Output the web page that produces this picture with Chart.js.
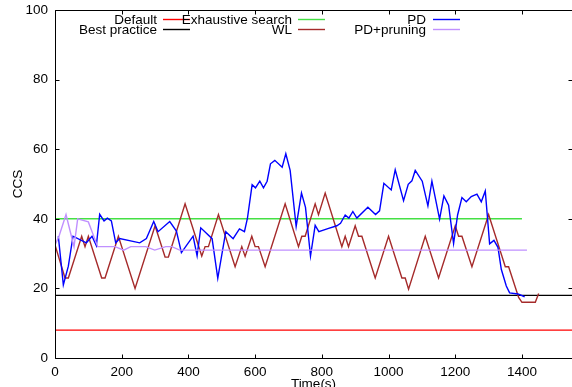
<!DOCTYPE html>
<html>
<head>
<meta charset="utf-8">
<script src="https://cdn.jsdelivr.net/npm/chart.js@4.4.1/dist/chart.umd.min.js"></script>
<style>
html, body { margin: 0; padding: 0; background: #fff; overflow: hidden; }
canvas { display: block; }
</style>
</head>
<body>
<canvas id="ccsChart" width="572" height="400"></canvas>
<script>
// constant reference levels
var defaultCcs = 8;
var bestPracticeCcs = 18;
var exhaustiveCcs = 40;
var fullSpan = [0, 1550];
var exhaustiveSpan = [0, 1400];

// WL
var wlTime = [0, 30, 40, 80, 90, 100, 140, 150, 190, 240, 300, 330, 340, 390, 440, 450, 460, 490, 540, 560, 570, 590, 600, 610, 630, 690, 730, 740, 750, 780, 790, 810, 860, 870, 880, 900, 910, 920, 960, 1000, 1040, 1050, 1060, 1110, 1150, 1200, 1210, 1220, 1250, 1300, 1350, 1360, 1390, 1400, 1440, 1450];
var wlCcs  = [32.5, 23, 23, 35, 32, 35, 23, 23, 35, 20, 38, 29, 29, 44.3, 29.3, 32, 32, 41.2, 26.2, 32, 29.2, 35, 32, 32, 26.2, 44.3, 32, 35, 35, 44.3, 41.2, 47.4, 32, 35, 32, 38, 35, 35, 23, 35, 23, 23, 19.8, 35, 23, 38, 35, 35, 26.2, 41.2, 26.2, 26.2, 17.4, 16, 16, 18.5];

// PD
var pdTime = [10, 25, 40, 54, 94, 111, 124, 134, 147, 157, 169, 182, 194, 254, 274, 296, 309, 344, 364, 379, 414, 426, 437, 471, 488, 512, 534, 553, 568, 577, 591, 601, 614, 625, 636, 646, 659, 681, 692, 705, 723, 739, 751, 766, 780, 791, 818, 845, 856, 870, 881, 893, 905, 938, 961, 973, 986, 1008, 1020, 1045, 1059, 1070, 1080, 1101, 1118, 1130, 1153, 1166, 1180, 1195, 1207, 1220, 1233, 1248, 1265, 1278, 1290, 1303, 1316, 1328, 1338, 1353, 1363, 1388, 1408];
var pdCcs  = [35, 21, 26.4, 35, 33.1, 35, 32.3, 41.3, 39.4, 40.2, 39.4, 33.1, 34.3, 33.1, 34.3, 39.2, 36.3, 39.2, 36.5, 30.3, 35, 29.4, 37.4, 34.3, 22.9, 36.3, 34.3, 37.1, 36.3, 40.2, 49.8, 48.9, 50.8, 48.9, 50.8, 55.8, 56.8, 54.8, 58.7, 53.9, 37.8, 47.4, 43.3, 29.3, 38.1, 36.3, 37.2, 38, 38.7, 41.1, 40.2, 42.1, 40.2, 43.3, 41.2, 42.3, 50.2, 48.3, 54.1, 45.2, 49.9, 50.9, 53.9, 50.8, 43.7, 50.8, 39.9, 46.6, 43.9, 32.9, 41.1, 46.1, 44.9, 46.4, 47.1, 44.9, 48, 32.8, 33.8, 31.8, 25.5, 20.7, 18.7, 18.4, 17.6];

// PD+pruning
var prunTime = [0, 12, 33, 57, 68, 100, 128, 180, 206, 227, 272, 299, 332, 350, 374, 1415];
var prunCcs  = [32.5, 35, 41.2, 32, 40, 39.1, 32, 32, 31, 32, 32, 31, 32, 32, 31, 31];

function toPoints(xs, ys) {
	var pts = [];
	for (var i = 0; i < xs.length; i++) pts.push({x: xs[i], y: ys[i]});
	return pts;
}

function flat(span, v) {
	return [{x: span[0], y: v}, {x: span[1], y: v}];
}

var fnt = {family: "'Liberation Sans', Arial, Helvetica, sans-serif", size: 13.5};

var series = [
	{label: "Default",           data: flat(fullSpan, defaultCcs),       borderColor: "#ff0000"},
	{label: "Best practice",     data: flat(fullSpan, bestPracticeCcs),  borderColor: "#000000"},
	{label: "Exhaustive search", data: flat(exhaustiveSpan, exhaustiveCcs), borderColor: "#44e044"},
	{label: "WL",                data: toPoints(wlTime, wlCcs),           borderColor: "#a52a2a"},
	{label: "PD",                data: toPoints(pdTime, pdCcs),           borderColor: "#0000ff"},
	{label: "PD+pruning",        data: toPoints(prunTime, prunCcs),       borderColor: "#c090ff"}
];
series.forEach(function(s, i) {
	s.borderWidth = 1.4;
	s.pointRadius = 0;
	s.tension = 0;
	s.fill = false;
	s.order = series.length - i; // later series on top, like gnuplot
});

// gnuplot style frame with inward ticks (mirrored)
var framePlugin = {
	id: "frame",
	afterDatasetsDraw: function(chart) {
		var ctx = chart.ctx, a = chart.chartArea;
		var xs = chart.scales.x, ys = chart.scales.y;
		var l = Math.round(a.left) + 0.5, r = Math.round(a.right) + 0.5;
		var t = Math.round(a.top) + 0.5, b = Math.round(a.bottom) + 0.5;
		ctx.save();
		ctx.strokeStyle = "#000";
		ctx.lineWidth = 1;
		ctx.beginPath();
		ctx.rect(l, t, r - l, b - t);
		xs.ticks.forEach(function(tk) {
			var px = Math.round(xs.getPixelForValue(tk.value)) + 0.5;
			ctx.moveTo(px, b); ctx.lineTo(px, b - 4);
			ctx.moveTo(px, t); ctx.lineTo(px, t + 4);
		});
		ys.ticks.forEach(function(tk) {
			var py = Math.round(ys.getPixelForValue(tk.value)) + 0.5;
			ctx.moveTo(l, py); ctx.lineTo(l + 4, py);
			ctx.moveTo(r, py); ctx.lineTo(r - 4, py);
		});
		ctx.stroke();
		ctx.restore();
	}
};

// key: text right aligned, sample line after it, 3 columns x 2 rows
var keyPlugin = {
	id: "key",
	afterDraw: function(chart) {
		var ctx = chart.ctx;
		var textRight = [157, 292, 426];
		var sampleX = [[163, 190], [298, 325], [433, 460]];
		var rowBase = [24, 34];
		ctx.save();
		ctx.font = fnt.size + "px " + fnt.family;
		ctx.textAlign = "right";
		ctx.textBaseline = "alphabetic";
		chart.data.datasets.forEach(function(ds, i) {
			var col = Math.floor(i / 2), row = i % 2;
			ctx.fillStyle = "#000";
			ctx.fillText(ds.label, textRight[col], rowBase[row]);
			var ly = rowBase[row] - 4.5;
			ctx.strokeStyle = ds.borderColor;
			ctx.lineWidth = 1.4;
			ctx.beginPath();
			ctx.moveTo(sampleX[col][0], ly);
			ctx.lineTo(sampleX[col][1], ly);
			ctx.stroke();
		});
		ctx.restore();
	}
};

new Chart(document.getElementById("ccsChart"), {
	type: "line",
	data: {datasets: series},
	options: {
		responsive: false,
		animation: false,
		devicePixelRatio: 1,
		layout: {padding: {top: 10, right: 0, left: 0, bottom: 0}},
		plugins: {legend: {display: false}, tooltip: {enabled: false}},
		scales: {
			x: {
				type: "linear",
				min: 0,
				max: 1550,
				grid: {display: false, drawTicks: false},
				border: {display: false},
				ticks: {stepSize: 200, includeBounds: false, maxRotation: 0, autoSkip: false, color: "#000", font: fnt, padding: 6,
					callback: function(v) { return String(v); }},
				title: {display: true, text: "Time(s)", color: "#000", font: fnt, padding: {top: 0, bottom: 8}},
				afterFit: function(s) { s.height = 42; s.paddingLeft = 0; s.paddingRight = 0; }
			},
			y: {
				min: 0,
				max: 100,
				grid: {display: false, drawTicks: false},
				border: {display: false},
				ticks: {stepSize: 20, color: "#000", font: fnt, padding: 7},
				title: {display: true, text: "CCS", color: "#000", font: fnt, padding: {top: 10, bottom: 0}},
				afterFit: function(s) { s.width = 55; s.paddingTop = 0; s.paddingBottom = 0; }
			}
		}
	},
	plugins: [framePlugin, keyPlugin]
});
</script>
</body>
</html>
